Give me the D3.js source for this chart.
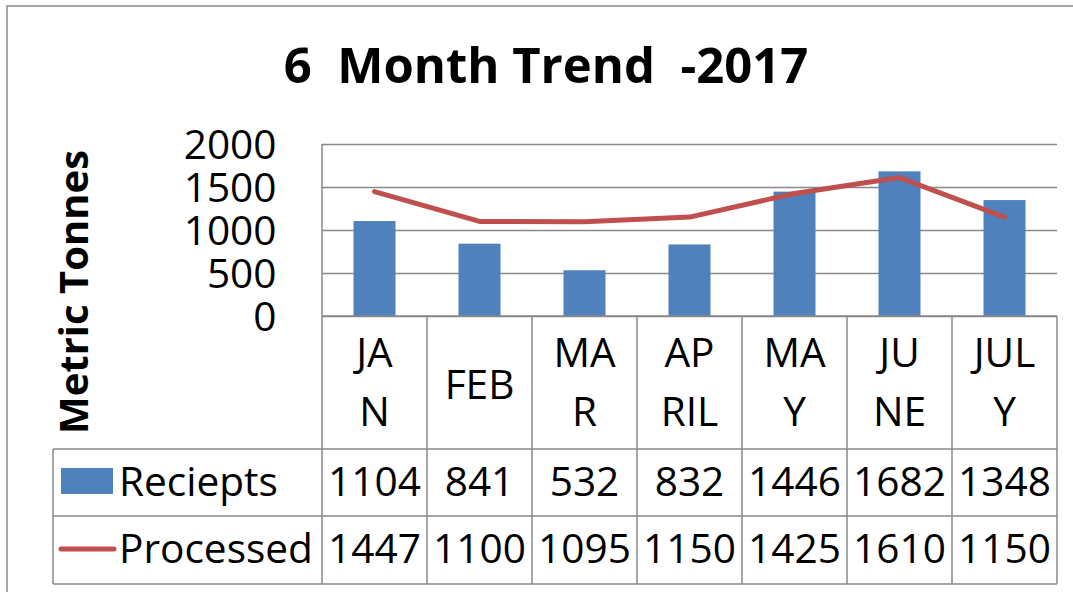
<!DOCTYPE html>
<html>
<head>
<meta charset="utf-8">
<script src="https://cdn.jsdelivr.net/npm/d3@7"></script>
<style>
	body { margin: 0; background: #fff; }
	svg { display: block; font-family: "Open Sans", sans-serif; }
</style>
</head>
<body>
<div id="chart"></div>
<script>
// month labels, wrapped as they show in the table cells
const monthLines = [["JA", "N"], ["FEB"], ["MA", "R"], ["AP", "RIL"], ["MA", "Y"], ["JU", "NE"], ["JUL", "Y"]];
const months = monthLines.map((l) => l.join(""));
const reciepts = [1104, 841, 532, 832, 1446, 1682, 1348];
const processed = [1447, 1100, 1095, 1150, 1425, 1610, 1150];
const yTicks = [0, 500, 1000, 1500, 2000];

const W = 1073, H = 592;
const C = {
	plotL: 322, plotR: 1057, plotT: 144, plotB: 316,
	row1: 449, row2: 516, tableB: 584, legendL: 53,
	barColor: "#4F81BD",
	lineColor: "#C0504D",
	gridColor: "#898989",
	font: 40.6
};

const svg = d3.select("#chart").append("svg")
	.attr("width", W)
	.attr("height", H);

// outer chart border (runs off the right / bottom edges)
svg.append("rect")
	.attr("x", 7).attr("y", 6)
	.attr("width", 1100).attr("height", 620)
	.attr("fill", "#fff")
	.attr("stroke", C.gridColor)
	.attr("stroke-width", 1.5);

const x = d3.scaleBand()
	.domain(months)
	.range([C.plotL, C.plotR])
	.paddingInner(0.6)
	.paddingOuter(0.3);
const cell = d3.scaleBand()
	.domain(months)
	.range([C.plotL, C.plotR]);
const y = d3.scaleLinear()
	.domain([0, 2000])
	.range([C.plotB, C.plotT]);

/* gridlines */
svg.append("g")
	.attr("transform", `translate(${C.plotL},0)`)
	.call(d3.axisLeft(y).tickValues(yTicks).tickSize(-(C.plotR - C.plotL)).tickFormat(""))
	.call((g) => g.select(".domain").remove())
	.call((g) => g.selectAll("line").attr("stroke", C.gridColor).attr("stroke-width", 1.5));

/* y axis labels */
svg.append("g")
	.attr("transform", `translate(${C.plotL},0)`)
	.call(d3.axisLeft(y).tickValues(yTicks).tickSize(0).tickPadding(45.5).tickFormat(d3.format("d")))
	.call((g) => g.select(".domain").remove())
	.call((g) => g.selectAll("text")
		.attr("font-family", "Open Sans")
		.attr("font-size", C.font)
		.attr("fill", "#000")
		.attr("dy", "0.36em"));

/* bars */
svg.append("g").selectAll("rect")
	.data(reciepts)
	.join("rect")
	.attr("x", (d, i) => x(months[i]))
	.attr("y", (d) => y(d))
	.attr("width", x.bandwidth())
	.attr("height", (d) => y(0) - y(d))
	.attr("fill", C.barColor);

/* processed line */
const line = d3.line()
	.x((d, i) => x(months[i]) + x.bandwidth() / 2)
	.y((d) => y(d));
svg.append("path")
	.datum(processed)
	.attr("d", line)
	.attr("fill", "none")
	.attr("stroke", C.lineColor)
	.attr("stroke-width", 5)
	.attr("stroke-linecap", "round")
	.attr("stroke-linejoin", "round");

/* data table grid */
const grid = svg.append("g")
	.attr("stroke", C.gridColor)
	.attr("stroke-width", 1.5);
grid.append("line").attr("x1", C.plotL).attr("x2", C.plotR).attr("y1", C.plotB).attr("y2", C.plotB);
[C.row1, C.row2, C.tableB].forEach((yy) => {
	grid.append("line").attr("x1", C.legendL).attr("x2", C.plotR).attr("y1", yy).attr("y2", yy);
});
grid.append("line").attr("x1", C.legendL).attr("x2", C.legendL).attr("y1", C.row1).attr("y2", C.tableB);
grid.append("line").attr("x1", C.plotL).attr("x2", C.plotL).attr("y1", C.plotT).attr("y2", C.tableB);
months.forEach((m) => {
	let xx = cell(m) + cell.bandwidth();
	grid.append("line").attr("x1", xx).attr("x2", xx).attr("y1", C.plotB).attr("y2", C.tableB);
});

/* month labels */
const lab = svg.append("g")
	.attr("font-size", C.font)
	.attr("text-anchor", "middle");
monthLines.forEach((lines, i) => {
	let cx = cell(months[i]) + cell.bandwidth() / 2;
	let base = lines.length === 1 ? 398.5 : 366.5;
	lines.forEach((t, j) => {
		lab.append("text")
			.attr("x", cx)
			.attr("y", base + j * 59)
			.text(t);
	});
});

/* table values */
[reciepts, processed].forEach((vals, r) => {
	let rowTop = r === 0 ? C.row1 : C.row2;
	lab.selectAll(null)
		.data(vals)
		.join("text")
		.attr("x", (d, i) => cell(months[i]) + cell.bandwidth() / 2)
		.attr("y", rowTop + 47)
		.text((d) => d);
});

/* legend keys */
svg.append("rect")
	.attr("x", 61).attr("y", 468)
	.attr("width", 52).attr("height", 26)
	.attr("fill", C.barColor);
svg.append("line")
	.attr("x1", 61).attr("x2", 114)
	.attr("y1", 549).attr("y2", 549)
	.attr("stroke", C.lineColor)
	.attr("stroke-width", 5)
	.attr("stroke-linecap", "round");
svg.append("text").attr("x", 119).attr("y", C.row1 + 47).attr("font-size", C.font).text("Reciepts");
svg.append("text").attr("x", 119).attr("y", C.row2 + 47).attr("font-size", C.font).text("Processed");

/* titles */
svg.append("text")
	.attr("x", 546).attr("y", 82.5)
	.attr("text-anchor", "middle")
	.attr("font-size", 49)
	.attr("font-weight", "bold")
	.style("white-space", "pre")
	.text("6  Month Trend  -2017");
svg.append("text")
	.attr("transform", "translate(87.5,292) rotate(-90)")
	.attr("text-anchor", "middle")
	.attr("font-size", 40)
	.attr("font-weight", "bold")
	.text("Metric Tonnes");
</script>
</body>
</html>
